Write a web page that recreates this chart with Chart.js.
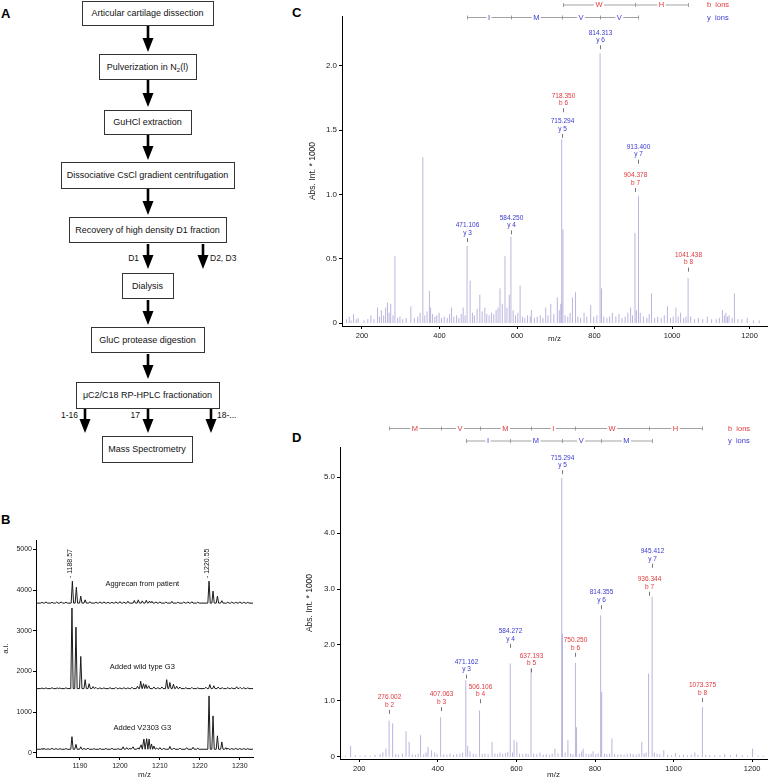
<!DOCTYPE html>
<html><head><meta charset="utf-8">
<script src="https://cdn.jsdelivr.net/npm/chart.js@4"></script>
<style>
html,body{margin:0;padding:0;background:#fff;}
#root{position:relative;width:768px;height:780px;overflow:hidden;background:#fff;font-family:"Liberation Sans",Arial,Helvetica,sans-serif;}
canvas{position:absolute;}
.pl{position:absolute;font-weight:bold;font-size:13px;color:#000;line-height:13px;}
</style></head>
<body><div id="root">
<svg id="flow" width="300" height="470" style="position:absolute;left:0;top:0" xmlns="http://www.w3.org/2000/svg"></svg>
<div class="pl" style="left:1px;top:7px">A</div>
<div class="pl" style="left:1px;top:513px">B</div>
<div class="pl" style="left:292px;top:6px">C</div>
<div class="pl" style="left:292px;top:431px">D</div>
<canvas id="cB" width="260" height="250" style="left:0;top:530px;width:260px;height:250px"></canvas>
<canvas id="cC" width="478" height="345" style="left:290px;top:0;width:478px;height:345px"></canvas>
<canvas id="cD" width="478" height="360" style="left:290px;top:420px;width:478px;height:360px"></canvas>
</div>
<script>
const FONT = '"Liberation Sans", Arial, Helvetica, sans-serif';
const RED = '#e0393e', BLUE = '#3a3ad0';

// ---------- Panel A: workflow steps ----------
const flowSteps = ['Articular cartilage dissection','Pulverization in N2(l)','GuHCl extraction',
  'Dissociative CsCl gradient centrifugation','Recovery of high density D1 fraction','Dialysis',
  'GluC protease digestion','\u03bcC2/C18 RP-HPLC fractionation','Mass Spectrometry'];
const flowBoxes = [[82,1,131,24],[99,54,97,25],[104,110,87,24],[61,162,173,26],[69,217,157,25],[122,273,51,25],[91,327,113,25],[76,382,143,26],[102,436,90,26]];
const flowArrows = [[148,26,52],[148,80,107],[148,135,160],[148,189,215],[148,244,269],[203,244,269],[148,300,325],[148,354,379],[85,409,433],[148,409,433],[211,409,433]];
const flowSideLabels = [['D1',139,258,'end'],['D2, D3',210,258,'start'],['1-16',78,415,'end'],['17',140,415,'end'],['18-...',217,415,'start']];

// ---------- Panel B: MALDI spectra ----------
const bXTicks = [1190,1200,1210,1220,1230];
const bYTicks = [0,1000,2000,3000,4000,5000];
const bPatientBase = 3680;
const bPatientPeaks = [[1180.5,3700],[1181.5,3712],[1183,3700],[1184.2,3708],[1185.3,3712],[1186.5,3703],[1188.1,4220],[1189.1,4070],[1190.2,3850],[1191.3,3760],[1192.5,3715],[1194,3705],[1195,3712],[1196,3712],[1197,3702],[1198,3700],[1199,3712],[1200,3718],[1201,3708],[1202,3725],[1203.6,3745],[1204.6,3760],[1205.6,3735],[1206.6,3750],[1207.4,3730],[1208,3725],[1209,3712],[1210,3712],[1211.5,3708],[1213,3722],[1214.5,3706],[1216,3708],[1217,3712],[1218,3715],[1219.5,3705],[1222.3,4220],[1223.3,3975],[1224.4,3850],[1225.5,3740],[1227,3705],[1228,3708],[1229,3702],[1230,3712],[1231,3704],[1232,3700]];
const bWildBase = 1580;
const bWildPeaks = [[1180.5,1595],[1181.5,1600],[1183,1605],[1184.3,1598],[1185,1595],[1186.5,1602],[1188.0,3560],[1189.0,3090],[1190.2,2370],[1191.3,1800],[1192.3,1700],[1193.3,1630],[1194,1610],[1195,1600],[1196,1600],[1197.5,1605],[1199,1610],[1200,1598],[1201,1605],[1202,1600],[1203,1615],[1204.4,1640],[1205.2,1760],[1205.9,1700],[1206.5,1680],[1207.2,1650],[1208.5,1620],[1209.5,1605],[1210.5,1620],[1211.7,1800],[1212.5,1730],[1213.4,1690],[1214.2,1640],[1215,1620],[1216.5,1605],[1218,1610],[1219.5,1600],[1221.5,1615],[1222.5,1680],[1223.5,1650],[1224.6,1620],[1225.6,1605],[1227,1605],[1228,1600],[1229.2,1625],[1230.1,1612],[1231,1605],[1232,1600]];
const bV2303Base = 90;
const bV2303Peaks = [[1180.5,105],[1181,110],[1182,100],[1183,115],[1184,108],[1185,105],[1186.5,110],[1188.0,400],[1189.0,210],[1190.2,150],[1191,110],[1192,120],[1193.5,105],[1195,110],[1196.5,112],[1198,115],[1199.5,108],[1200.8,150],[1201.7,130],[1202.5,115],[1203.3,150],[1204.5,125],[1205.3,200],[1206.0,340],[1206.7,350],[1207.3,340],[1207.9,220],[1208.5,170],[1209.2,120],[1210,130],[1211,115],[1212.5,160],[1213.5,120],[1215,120],[1216.7,130],[1218.3,140],[1219.5,115],[1222.3,1400],[1223.3,910],[1224.4,420],[1225.5,270],[1226.5,130],[1227,120],[1228,110],[1229,115],[1230,110],[1231,110],[1232,105]];
const bTraceNames = [['Aggrecan from patient',1205.6,4150],['Added wild type G3',1205.6,2120],['Added V2303 G3',1205.6,620]];
const bPeakLabels = [['1188.57',1188.1,4220],['1220.55',1222.3,4220]];

// ---------- Panel C: MS/MS ----------
const cXTicks = [200,400,600,800,1000,1200];
const cYTicks = [0,0.5,1.0,1.5,2.0];
const cPeaks = [[160,0.03],[167,0.05],[172,0.02],[178,0.07],[185,0.03],[190,0.04],[205,0.02],[215,0.03],[223,0.06],[231,0.03],[240,0.12],[245,0.05],[250,0.10],[256,0.06],[261,0.12],[266,0.16],[270,0.08],[274,0.15],[280,0.06],[285,0.52],[292,0.04],[298,0.05],[305,0.03],[314,0.04],[326,0.13],[335,0.04],[344,0.05],[350,0.08],[357,1.29],[362,0.06],[368,0.09],[374,0.25],[377,0.12],[382,0.07],[388,0.05],[393,0.06],[399,0.08],[405,0.04],[412,0.05],[420,0.04],[426,0.07],[431,0.12],[437,0.05],[444,0.06],[450,0.04],[456,0.07],[461,0.12],[466,0.06],[471.106,0.60],[479,0.33],[485,0.08],[490,0.06],[497,0.11],[504,0.22],[510,0.09],[517,0.12],[522,0.07],[528,0.06],[534,0.08],[540,0.07],[546,0.10],[551,0.12],[556,0.27],[562,0.15],[569,0.52],[574,0.12],[580,0.22],[584.25,0.67],[590,0.10],[596,0.06],[602,0.08],[608,0.29],[614,0.05],[620,0.04],[627,0.06],[634,0.05],[637,0.10],[645,0.04],[652,0.05],[660,0.06],[667,0.04],[674,0.12],[680,0.06],[687,0.15],[695,0.07],[704,0.20],[709,0.10],[713,0.15],[715.294,1.43],[718.35,0.73],[724,0.06],[731,0.05],[737,0.08],[743,0.20],[751,0.24],[757,0.05],[764,0.04],[773,0.08],[780,0.05],[790,0.14],[798,0.05],[806,0.06],[814.313,2.10],[818,0.27],[824,0.05],[832,0.04],[839,0.05],[846,0.08],[855,0.05],[863,0.07],[871,0.04],[879,0.05],[886,0.08],[893,0.12],[898,0.06],[904.378,0.70],[908,0.10],[913.4,0.99],[918,0.08],[926,0.05],[935,0.04],[941,0.07],[947,0.23],[955,0.04],[963,0.05],[972,0.04],[980,0.06],[988,0.13],[996,0.04],[1003,0.05],[1010,0.12],[1016,0.05],[1022,0.08],[1030,0.04],[1036,0.05],[1041.438,0.35],[1048,0.05],[1058,0.03],[1068,0.04],[1079,0.03],[1091,0.05],[1102,0.03],[1114,0.03],[1122,0.04],[1130,0.10],[1135,0.06],[1139,0.08],[1143,0.05],[1147,0.06],[1155,0.04],[1161,0.23],[1170,0.03],[1180,0.03],[1194,0.04],[1210,0.02],[1225,0.02]];
const cIonLabels = [[814.313,'y 6',2.13],[718.350,'b 6',1.64],[715.294,'y 5',1.44],[913.400,'y 7',1.24],[904.378,'b 7',1.02],[471.106,'y 3',0.63],[584.250,'y 4',0.69],[1041.438,'b 8',0.40]];
const cBLadderMz = [718.350,904.378,1041.438];
const cBLadderRes = ['W','H'];
const cYLadderMz = [471.106,584.250,715.294,814.313,913.400];
const cYLadderRes = ['I','M','V','V'];

// ---------- Panel D: MS/MS ----------
const dXTicks = [200,400,600,800,1000,1200];
const dYTicks = [0,1,2,3,4,5];
const dPeaks = [[165,0.02],[178,0.20],[190,0.03],[202,0.02],[215,0.03],[228,0.02],[240,0.04],[253,0.05],[260,0.08],[268,0.15],[276.002,0.65],[285,0.60],[293,0.05],[300,0.04],[310,0.06],[319,0.46],[327,0.27],[335,0.05],[343,0.04],[350,0.06],[356,0.39],[364,0.05],[370,0.08],[375,0.18],[384,0.12],[392,0.08],[398,0.05],[407.063,0.71],[415,0.05],[423,0.04],[431,0.06],[440,0.04],[448,0.05],[456,0.06],[463,0.08],[471.162,1.37],[476,0.20],[482,0.10],[490,0.06],[497,0.05],[506.106,0.83],[513,0.05],[520,0.06],[528,0.05],[538,0.27],[545,0.06],[552,0.05],[558,0.08],[565,0.06],[572,0.07],[578,0.09],[584.272,1.67],[590,0.08],[594,0.30],[601,0.27],[608,0.06],[616,0.05],[624,0.06],[630,0.05],[637.193,1.58],[644,0.06],[652,0.05],[660,0.08],[668,0.04],[676,0.05],[684,0.04],[691,0.06],[698,0.15],[706,0.06],[715.294,4.98],[717,2.20],[724,0.08],[731,0.30],[738,0.06],[744,0.05],[750.250,1.68],[753,0.53],[760,0.06],[766,0.10],[770,0.15],[777,0.06],[784,0.05],[790,0.06],[795,0.10],[802,0.05],[808,0.06],[814.355,2.53],[817,1.16],[824,0.06],[830,0.05],[837,0.06],[843,0.33],[850,0.05],[858,0.04],[866,0.05],[874,0.04],[882,0.05],[890,0.06],[897,0.05],[905,0.04],[912,0.06],[919,0.27],[925,0.06],[930,0.08],[936.344,1.49],[945.412,2.86],[951,0.08],[958,0.06],[965,0.05],[975,0.12],[985,0.04],[995,0.03],[1005,0.07],[1015,0.03],[1025,0.04],[1035,0.03],[1045,0.04],[1054,0.08],[1062,0.04],[1073.375,0.89],[1082,0.04],[1092,0.03],[1105,0.03],[1118,0.03],[1130,0.05],[1145,0.03],[1160,0.05],[1175,0.03],[1188,0.02],[1201,0.15],[1215,0.02],[1228,0.02]];
const dIonLabels = [[715.294,'y 5',5.05],[945.412,'y 7',3.38],[936.344,'b 7',2.88],[814.355,'y 6',2.64],[584.272,'y 4',1.95],[750.250,'b 6',1.79],[637.193,'b 5',1.51],[471.162,'y 3',1.40],[506.106,'b 4',0.96],[407.063,'b 3',0.82],[276.002,'b 2',0.77],[1073.375,'b 8',0.98]];
const dBLadderMz = [276.002,407.063,506.106,637.193,750.250,936.344,1073.375];
const dBLadderRes = ['M','V','M','I','W','H'];
const dYLadderMz = [471.162,584.272,715.294,814.355,945.412];
const dYLadderRes = ['I','M','V','M'];

// ---------- draw flowchart ----------
(function(){
  const svg = document.getElementById('flow');
  let html = '';
  flowBoxes.forEach((b,i)=>{
    html += `<rect x="${b[0]+0.5}" y="${b[1]+0.5}" width="${b[2]}" height="${b[3]}" fill="#fff" stroke="#333" stroke-width="1"/>`;
    const cx = b[0]+b[2]/2, cy = b[1]+b[3]/2+3.2;
    let t = flowSteps[i];
    if (t.indexOf('N2(l)')>=0) {
      html += `<text x="${cx}" y="${cy}" text-anchor="middle" font-family='${FONT}' font-size="9" fill="#111">Pulverization in N<tspan font-size="6" dy="2">2</tspan><tspan dy="-2">(l)</tspan></text>`;
    } else {
      html += `<text x="${cx}" y="${cy}" text-anchor="middle" font-family='${FONT}' font-size="9" fill="#111">${t}</text>`;
    }
  });
  flowArrows.forEach(a=>{
    const [x,y1,y2] = a;
    html += `<rect x="${x-1.3}" y="${y1}" width="2.6" height="${y2-y1-13}" fill="#000"/>`;
    html += `<polygon points="${x-5.5},${y2-14} ${x+5.5},${y2-14} ${x},${y2}" fill="#000"/>`;
  });
  flowSideLabels.forEach(l=>{
    html += `<text x="${l[1]}" y="${l[2]+3}" text-anchor="${l[3]}" font-family='${FONT}' font-size="8.5" fill="#111">${l[0]}</text>`;
  });
  svg.innerHTML = html;
})();

// ---------- helpers ----------
function traceFromPeaks(base, peaks, xmin, xmax, w){
  const pts = [{x:xmin,y:base}];
  peaks.slice().sort((a,b)=>a[0]-b[0]).forEach(p=>{
    pts.push({x:p[0]-w,y:base},{x:p[0],y:p[1]},{x:p[0]+w,y:base});
  });
  pts.push({x:xmax,y:base});
  return pts;
}
function sticks(peaks){
  const pts=[];
  peaks.forEach(p=>{pts.push({x:p[0],y:0},{x:p[0],y:p[1]},{x:p[0],y:null});});
  return pts;
}
function fixedTicks(arr){return s=>{s.ticks=arr.map(v=>({value:v}));};}

function axisCommon(ticksArr, fit, fitVal, fmt, fontSize, pad){
  return {
    type:'linear',
    afterBuildTicks: fixedTicks(ticksArr),
    afterFit: s=>{ s[fit]=fitVal; },
    grid:{display:true,drawOnChartArea:false,drawTicks:true,tickLength:3,color:'#000',lineWidth:1},
    border:{display:true,color:'#000',width:1},
    ticks:{font:{family:FONT,size:fontSize},color:'#222',padding:pad,maxRotation:0,autoSkip:false,callback:fmt}
  };
}

// ---------- Panel B chart ----------
const bPlugin = {
  id:'bLabels',
  afterDraw(chart){
    const {ctx, scales:{x,y}} = chart;
    ctx.save();
    ctx.fillStyle='#111';
    ctx.font = `7.5px ${FONT}`;
    ctx.textAlign='center'; ctx.textBaseline='middle';
    bTraceNames.forEach(t=>ctx.fillText(t[0], x.getPixelForValue(t[1]), y.getPixelForValue(t[2])));
    ctx.font = `7px ${FONT}`;
    bPeakLabels.forEach(l=>{
      const px = x.getPixelForValue(l[1])-2, py = y.getPixelForValue(l[2])-3;
      ctx.save(); ctx.translate(px,py); ctx.rotate(-Math.PI/2);
      ctx.textAlign='left'; ctx.textBaseline='middle';
      ctx.fillText('- '+l[0],0,0);
      ctx.restore();
    });
    ctx.restore();
  }
};
const bX = axisCommon(bXTicks,'height',23,v=>v,7,2);
bX.min=1179; bX.max=1233.3;
bX.title={display:true,text:'m/z',font:{family:FONT,size:8},color:'#222',padding:{top:0,bottom:0}};
const bY = axisCommon(bYTicks,'width',36,v=>v,7,1);
bY.min=-100; bY.max=5230;
bY.title={display:true,text:'a.i.',font:{family:FONT,size:8},color:'#222',padding:{top:1,bottom:0}};
new Chart(document.getElementById('cB'),{
  type:'line',
  data:{datasets:[bPatientPeaks,bWildPeaks,bV2303Peaks].map((pk,i)=>({
    data: traceFromPeaks([bPatientBase,bWildBase,bV2303Base][i], pk, 1179, 1233.3, 0.3),
    borderColor:'#1a1a1a',borderWidth:1,pointRadius:0,tension:0,fill:false}))},
  options:{responsive:false,animation:false,devicePixelRatio:1,
    layout:{padding:{top:10,right:7,left:0,bottom:0}},
    plugins:{legend:{display:false},tooltip:{enabled:false}},
    scales:{x:bX,y:bY}},
  plugins:[bPlugin]
});

// ---------- Panels C, D ----------
function ionPlugin(labels, bMz, bRes, yMz, yRes, rowB, rowY, legendX){
  return {
    id:'ions',
    afterDraw(chart){
      const {ctx, scales:{x,y}} = chart;
      ctx.save();
      ctx.textAlign='center'; ctx.textBaseline='middle';
      labels.forEach(a=>{
        const px = Math.round(x.getPixelForValue(a[0]))+0.5, py = y.getPixelForValue(a[2]);
        const col = a[1][0]==='b'?RED:BLUE;
        ctx.strokeStyle='#555'; ctx.lineWidth=0.8;
        ctx.beginPath(); ctx.moveTo(px,py); ctx.lineTo(px,py-4); ctx.stroke();
        ctx.fillStyle=col; ctx.font=`6.5px ${FONT}`;
        ctx.fillText(a[1], px, py-9);
        ctx.fillText(a[0].toFixed(3), px, py-16.5);
      });
      function ladder(mzs,res,rowYp,col){
        const xs = mzs.map(m=>x.getPixelForValue(m));
        ctx.strokeStyle='#8a8a8a'; ctx.lineWidth=0.8;
        ctx.beginPath(); ctx.moveTo(xs[0],rowYp+0.5); ctx.lineTo(xs[xs.length-1],rowYp+0.5); ctx.stroke();
        xs.forEach(p=>{ctx.beginPath();ctx.moveTo(Math.round(p)+0.5,rowYp-1.5);ctx.lineTo(Math.round(p)+0.5,rowYp+2.5);ctx.stroke();});
        ctx.font=`7.5px ${FONT}`;
        res.forEach((r,i)=>{
          const cx=(xs[i]+xs[i+1])/2; const w=ctx.measureText(r).width+3;
          ctx.fillStyle='#fff'; ctx.fillRect(cx-w/2,rowYp-4,w,9);
          ctx.fillStyle=col; ctx.fillText(r,cx,rowYp+0.5);
        });
      }
      ladder(bMz,bRes,rowB,RED);
      ladder(yMz,yRes,rowY,BLUE);
      ctx.font=`7.5px ${FONT}`; ctx.textAlign='left';
      ctx.fillStyle=RED; ctx.fillText('b  ions',legendX,rowB+0.5);
      ctx.fillStyle=BLUE; ctx.fillText('y  ions',legendX,rowY+0.5);
      ctx.restore();
    }
  };
}
function msChart(id, peaks, xT, yT, xr, yr, yw, xh, padTop, yTitlePad, xTitlePad, fmt, plug){
  const X = axisCommon(xT,'height',xh,v=>v,7.5,2);
  X.min=xr[0]; X.max=xr[1];
  X.title={display:true,text:'m/z',font:{family:FONT,size:8},color:'#222',padding:{top:0,bottom:xTitlePad}};
  const Y = axisCommon(yT,'width',yw,fmt,8,2);
  Y.min=yr[0]; Y.max=yr[1];
  Y.title={display:true,text:'Abs. Int. * 1000',font:{family:FONT,size:8.5},color:'#222',padding:{top:yTitlePad,bottom:0}};
  new Chart(document.getElementById(id),{
    type:'line',
    data:{datasets:[{data:sticks(peaks),borderColor:'rgba(130,120,195,0.55)',borderWidth:1,pointRadius:0,spanGaps:false,tension:0}]},
    options:{responsive:false,animation:false,devicePixelRatio:1,
      layout:{padding:{top:padTop,right:1,left:0,bottom:0}},
      plugins:{legend:{display:false},tooltip:{enabled:false}},
      scales:{x:X,y:Y}},
    plugins:[plug]
  });
}
msChart('cC', cPeaks, cXTicks, cYTicks, [148.4,1245], [-0.023,2.389], 52, 19, 16, 18, 1,
  v=>v===0?'0':v.toFixed(1),
  ionPlugin(cIonLabels,cBLadderMz,cBLadderRes,cYLadderMz,cYLadderRes,4.5,17,417));
msChart('cD', dPeaks, dXTicks, dYTicks, [151,1237.7], [-0.036,5.536], 50, 21, 27, 15, 0,
  v=>v===0?'0':v.toFixed(1),
  ionPlugin(dIonLabels,dBLadderMz,dBLadderRes,dYLadderMz,dYLadderRes,8,20.5,438));
</script>
</body></html>
